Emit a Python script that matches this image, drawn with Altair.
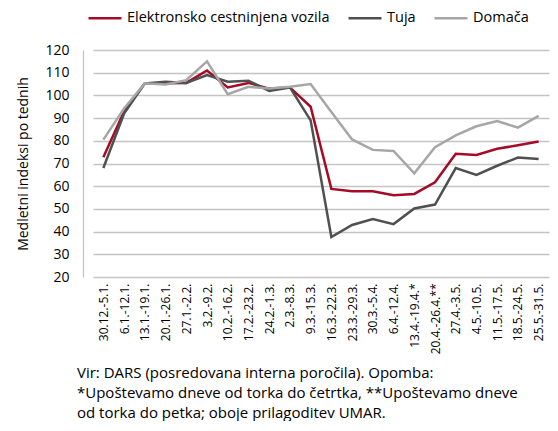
import altair as alt
import pandas as pd

weeks = ["30.12.-5.1.", "6.1.-12.1.", "13.1.-19.1.", "20.1.-26.1.", "27.1.-2.2.",
         "3.2.-9.2.", "10.2.-16.2.", "17.2.-23.2.", "24.2.-1.3.", "2.3.-8.3.",
         "9.3.-15.3.", "16.3.-22.3.", "23.3.-29.3.", "30.3.-5.4.", "6.4.-12.4.",
         "13.4.-19.4.*", "20.4.-26.4.**", "27.4.-3.5.", "4.5.-10.5.", "11.5.-17.5.",
         "18.5.-24.5.", "25.5.-31.5."]

elektronsko = [72.8, 93, 105.3, 105.3, 105.5, 111, 103.5, 105.5, 103, 103.5,
               95, 58.8, 57.8, 57.8, 56, 56.6, 61.7, 74.3, 73.8, 76.5, 78, 79.7]
tuja = [68, 92, 105.3, 106, 105.5, 109, 106, 106.5, 102, 103.5,
        89, 37.6, 42.9, 45.5, 43.3, 50.2, 51.9, 68, 65, 69, 72.6, 72]
domaca = [80.5, 94.2, 105.3, 104.8, 106.7, 115, 100.5, 103.8, 103, 103.8,
          105, 92.7, 80.6, 76, 75.5, 65.7, 77.2, 82.4, 86.4, 88.7, 85.8, 91]

series_names = ["Elektronsko cestninjena vozila", "Tuja", "Domača"]
series_colors = ["#a50a26", "#505050", "#a6a6a6"]

rows = []
for name, vals in zip(series_names, [elektronsko, tuja, domaca]):
    for i, (w, v) in enumerate(zip(weeks, vals)):
        rows.append({"Teden": w, "Vrednost": v, "Serija": name, "ord": i})
df = pd.DataFrame(rows)

FONT = "Open Sans"

chart = alt.Chart(df).mark_line(strokeWidth=2.5).encode(
    x=alt.X("Teden:N", sort=weeks,
            scale=alt.Scale(type="point", range=[10, 466]),
            axis=alt.Axis(title=None, labelAngle=270, labelFontSize=12,
                          labelColor="#000000", labelPadding=6, ticks=False,
                          domain=False, grid=False, labelFont=FONT)),
    y=alt.Y("Vrednost:Q",
            scale=alt.Scale(domain=[20, 120], nice=False, zero=False),
            axis=alt.Axis(title="Medletni indeksi po tednih", values=list(range(20, 121, 10)),
                          titleFontSize=14, titleFontWeight="normal", titleColor="#000000",
                          titlePadding=14, labelFontSize=14, labelColor="#000000",
                          labelPadding=14, ticks=False, domain=True, domainColor="#c4c4c4",
                          domainWidth=1.3, gridColor="#c4c4c4", gridWidth=1.3,
                          labelFont=FONT, titleFont=FONT)),
    color=alt.Color("Serija:N",
                    scale=alt.Scale(domain=series_names, range=series_colors),
                    legend=alt.Legend(title=None, orient="none", direction="horizontal",
                                      legendX=4, legendY=-50, symbolType="stroke",
                                      symbolSize=1089, symbolStrokeWidth=2.5,
                                      labelFontSize=14.5, labelFont=FONT, labelColor="#000000",
                                      labelLimit=0, columnPadding=13, labelOffset=4)),
    order=alt.Order("ord:Q"),
).properties(
    width=467,
    height=227,
    padding={"left": 75, "top": 42, "right": 0, "bottom": 144},
    autosize=alt.AutoSizeParams(type="none"),
    title=alt.TitleParams(
        text=["Vir: DARS (posredovana  interna poročila). Opomba:",
              "*Upoštevamo  dneve od torka do četrtka, **Upoštevamo  dneve",
              "od torka do petka; oboje prilagoditev  UMAR."],
        orient="bottom", anchor="start", frame="group", fontSize=15, fontWeight="normal",
        font=FONT, color="#000000", lineHeight=20, dx=-6, offset=12),
).configure_view(stroke=None)

chart.save("out.html", embed_options={"renderer": "svg", "actions": False})
